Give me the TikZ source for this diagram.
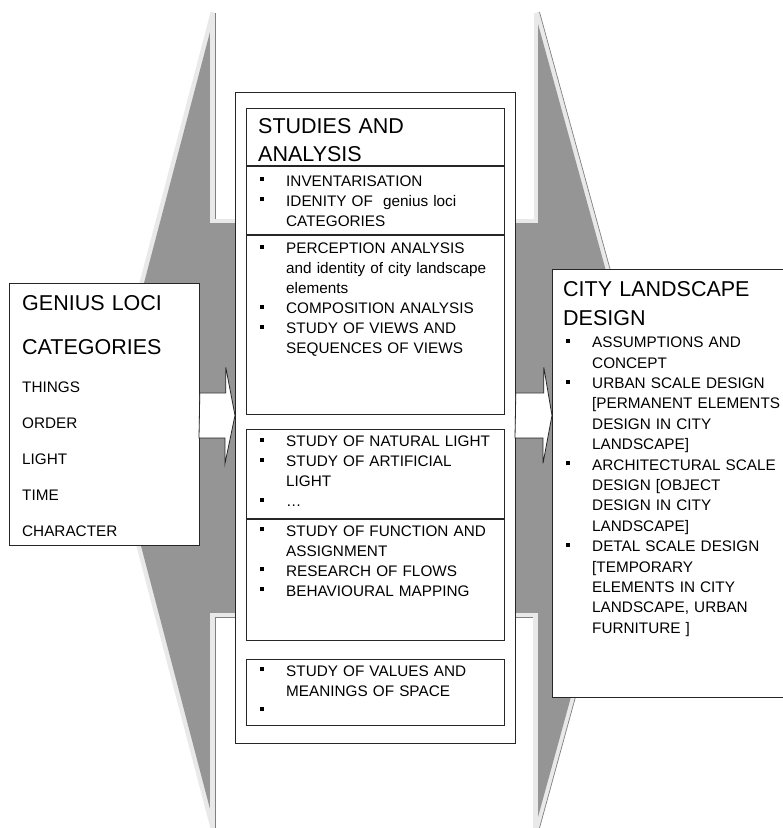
\documentclass[tikz,border=0pt]{standalone}
\usepackage{fontspec}
\setmainfont{Liberation Sans}
\usetikzlibrary{calc,positioning}

\definecolor{bandgray}{HTML}{959595}
\definecolor{bevelgray}{HTML}{E9E9E9}
\definecolor{edgegray}{HTML}{808080}

\newcommand{\diaghead}[1]{\fontsize{21.5pt}{#1}\selectfont}
\newcommand{\diagbody}[1]{\fontsize{15.3pt}{#1}\selectfont}
\newcommand{\bitem}[1]{\hangindent=26pt\hangafter=1\makebox[26pt][l]{\rule[4.7pt]{4pt}{4pt}}#1\par}

\begin{document}
\begin{tikzpicture}[
  x=1pt, y=-1pt,
  cell/.style={draw=black!85,line width=0.8pt,fill=white,inner sep=0pt,anchor=north west},
  listtext/.style={inner sep=0pt,anchor=base west,align=left,text width=250pt,font=\diagbody{20pt}},
  headtext/.style={inner sep=0pt,anchor=base west,align=left,text width=220pt,font=\diaghead{28.4pt}},
  blockarrow/.style={draw=black!85,line width=0.8pt,fill=white,line join=miter}
]
  \useasboundingbox (0,0) rectangle (783,828);
  % grey double arrow behind everything
  \draw[bevelgray,line width=9pt] (215,13) -- (108,420) -- (215,828);
  \draw[bevelgray,line width=9pt] (535,13) -- (647,420) -- (535,828);
  \fill[bandgray] (215,13) -- (108,420) -- (215,828) -- (535,828) -- (647,420) -- (535,13) -- cycle;
  \draw[edgegray,line width=0.7pt] (539.5,12) -- (651.5,420) -- (539.5,828);
  % white notches top and bottom
  \fill[bevelgray] (210,13) rectangle (538,223);
  \fill[white] (215,13) rectangle (534,219);
  \draw[edgegray,line width=0.7pt] (215,13) -- (215,219);
  \fill[bevelgray] (210,613) rectangle (538,828);
  \fill[white] (215,617) rectangle (533,828);
  \draw[edgegray,line width=0.7pt] (215,828) -- (215,617) -- (533,617);

  % boxes
  \node[cell,minimum width=190pt,minimum height=262pt] (genius) at (9,283) {};
  \node[cell,minimum width=280pt,minimum height=651pt] (mid) at (235,92) {};
  \node[cell,minimum width=258pt,minimum height=57pt] (headA) at (246,108) {};
  \node[cell,minimum width=258pt,minimum height=68pt,below=0pt of headA] (invA) {};
  \node[cell,minimum width=258pt,minimum height=179pt,below=0pt of invA] (percA) {};
  \node[cell,minimum width=258pt,minimum height=89pt,below=15pt of percA] (lightB) {};
  \node[cell,minimum width=258pt,minimum height=121pt,below=0pt of lightB] (funcB) {};
  \node[cell,minimum width=258pt,minimum height=66pt,below=18pt of funcB] (valC) {};
  \node[cell,minimum width=240pt,minimum height=428pt] (city) at (552,269) {};

  % block arrows
  \coordinate (tipL) at ([yshift=2.5pt]mid.west);
  \draw[blockarrow] (genius.east |- tipL) ++(0,-22.5) -- ++(26,0) -- ++(0,-25.5) -- (tipL)
    -- ++(-10,48) -- ++(0,-25.5) -- ++(-26,0) -- cycle;
  \coordinate (tailR) at ([yshift=2.5pt]mid.east);
  \coordinate (tipR) at (tailR -| city.west);
  \draw[blockarrow] (tailR) ++(0,-22.5) -- ++(28,0) -- ++(0,-25.5) -- (tipR)
    -- ++(-9,48) -- ++(0,-25.5) -- ++(-28,0) -- cycle;

  % texts
  \node[headtext,text width=185pt,font=\diaghead{44pt}] (geniusHead) at (22,310) {GENIUS LOCI\\CATEGORIES};
  \node[listtext,text width=180pt,font=\diagbody{36pt}] (geniusList) at (22,392.3) {THINGS\\ORDER\\LIGHT\\TIME\\CHARACTER};
  \node[headtext] (studiesHead) at (258,133.3) {STUDIES AND\\ANALYSIS};
  \node[listtext] (invList) at (260,186) {\bitem{INVENTARISATION}\bitem{IDENITY OF\ \ genius loci\newline CATEGORIES}};
  \node[listtext] (percList) at (260,253.3) {\bitem{PERCEPTION ANALYSIS\newline and identity of city landscape\newline elements}\bitem{COMPOSITION ANALYSIS}\bitem{STUDY OF VIEWS AND\newline SEQUENCES OF VIEWS}};
  \node[listtext] (lightList) at (260,446.7) {\bitem{STUDY OF NATURAL LIGHT}\bitem{STUDY OF ARTIFICIAL\newline LIGHT}\bitem{…}};
  \node[listtext] (funcList) at (260,536) {\bitem{STUDY OF FUNCTION AND\newline ASSIGNMENT}\bitem{RESEARCH OF FLOWS}\bitem{BEHAVIOURAL MAPPING}};
  \node[listtext] (valList) at (260,676) {\bitem{STUDY OF VALUES AND\newline MEANINGS OF SPACE}\bitem{}};
  \node[headtext] (cityHead) at (563,296.7) {CITY LANDSCAPE\\DESIGN};
  \node[listtext,text width=230pt,font=\diagbody{20.4pt}] (cityList) at (566,347.7) {\bitem{ASSUMPTIONS AND\newline CONCEPT}\bitem{URBAN SCALE DESIGN\newline [PERMANENT ELEMENTS\newline DESIGN IN CITY\newline LANDSCAPE]}\bitem{ARCHITECTURAL SCALE\newline DESIGN [OBJECT\newline DESIGN IN CITY\newline LANDSCAPE]}\bitem{DETAL SCALE DESIGN\newline [TEMPORARY\newline ELEMENTS IN CITY\newline LANDSCAPE, URBAN\newline FURNITURE ]}};
\end{tikzpicture}
\end{document}
